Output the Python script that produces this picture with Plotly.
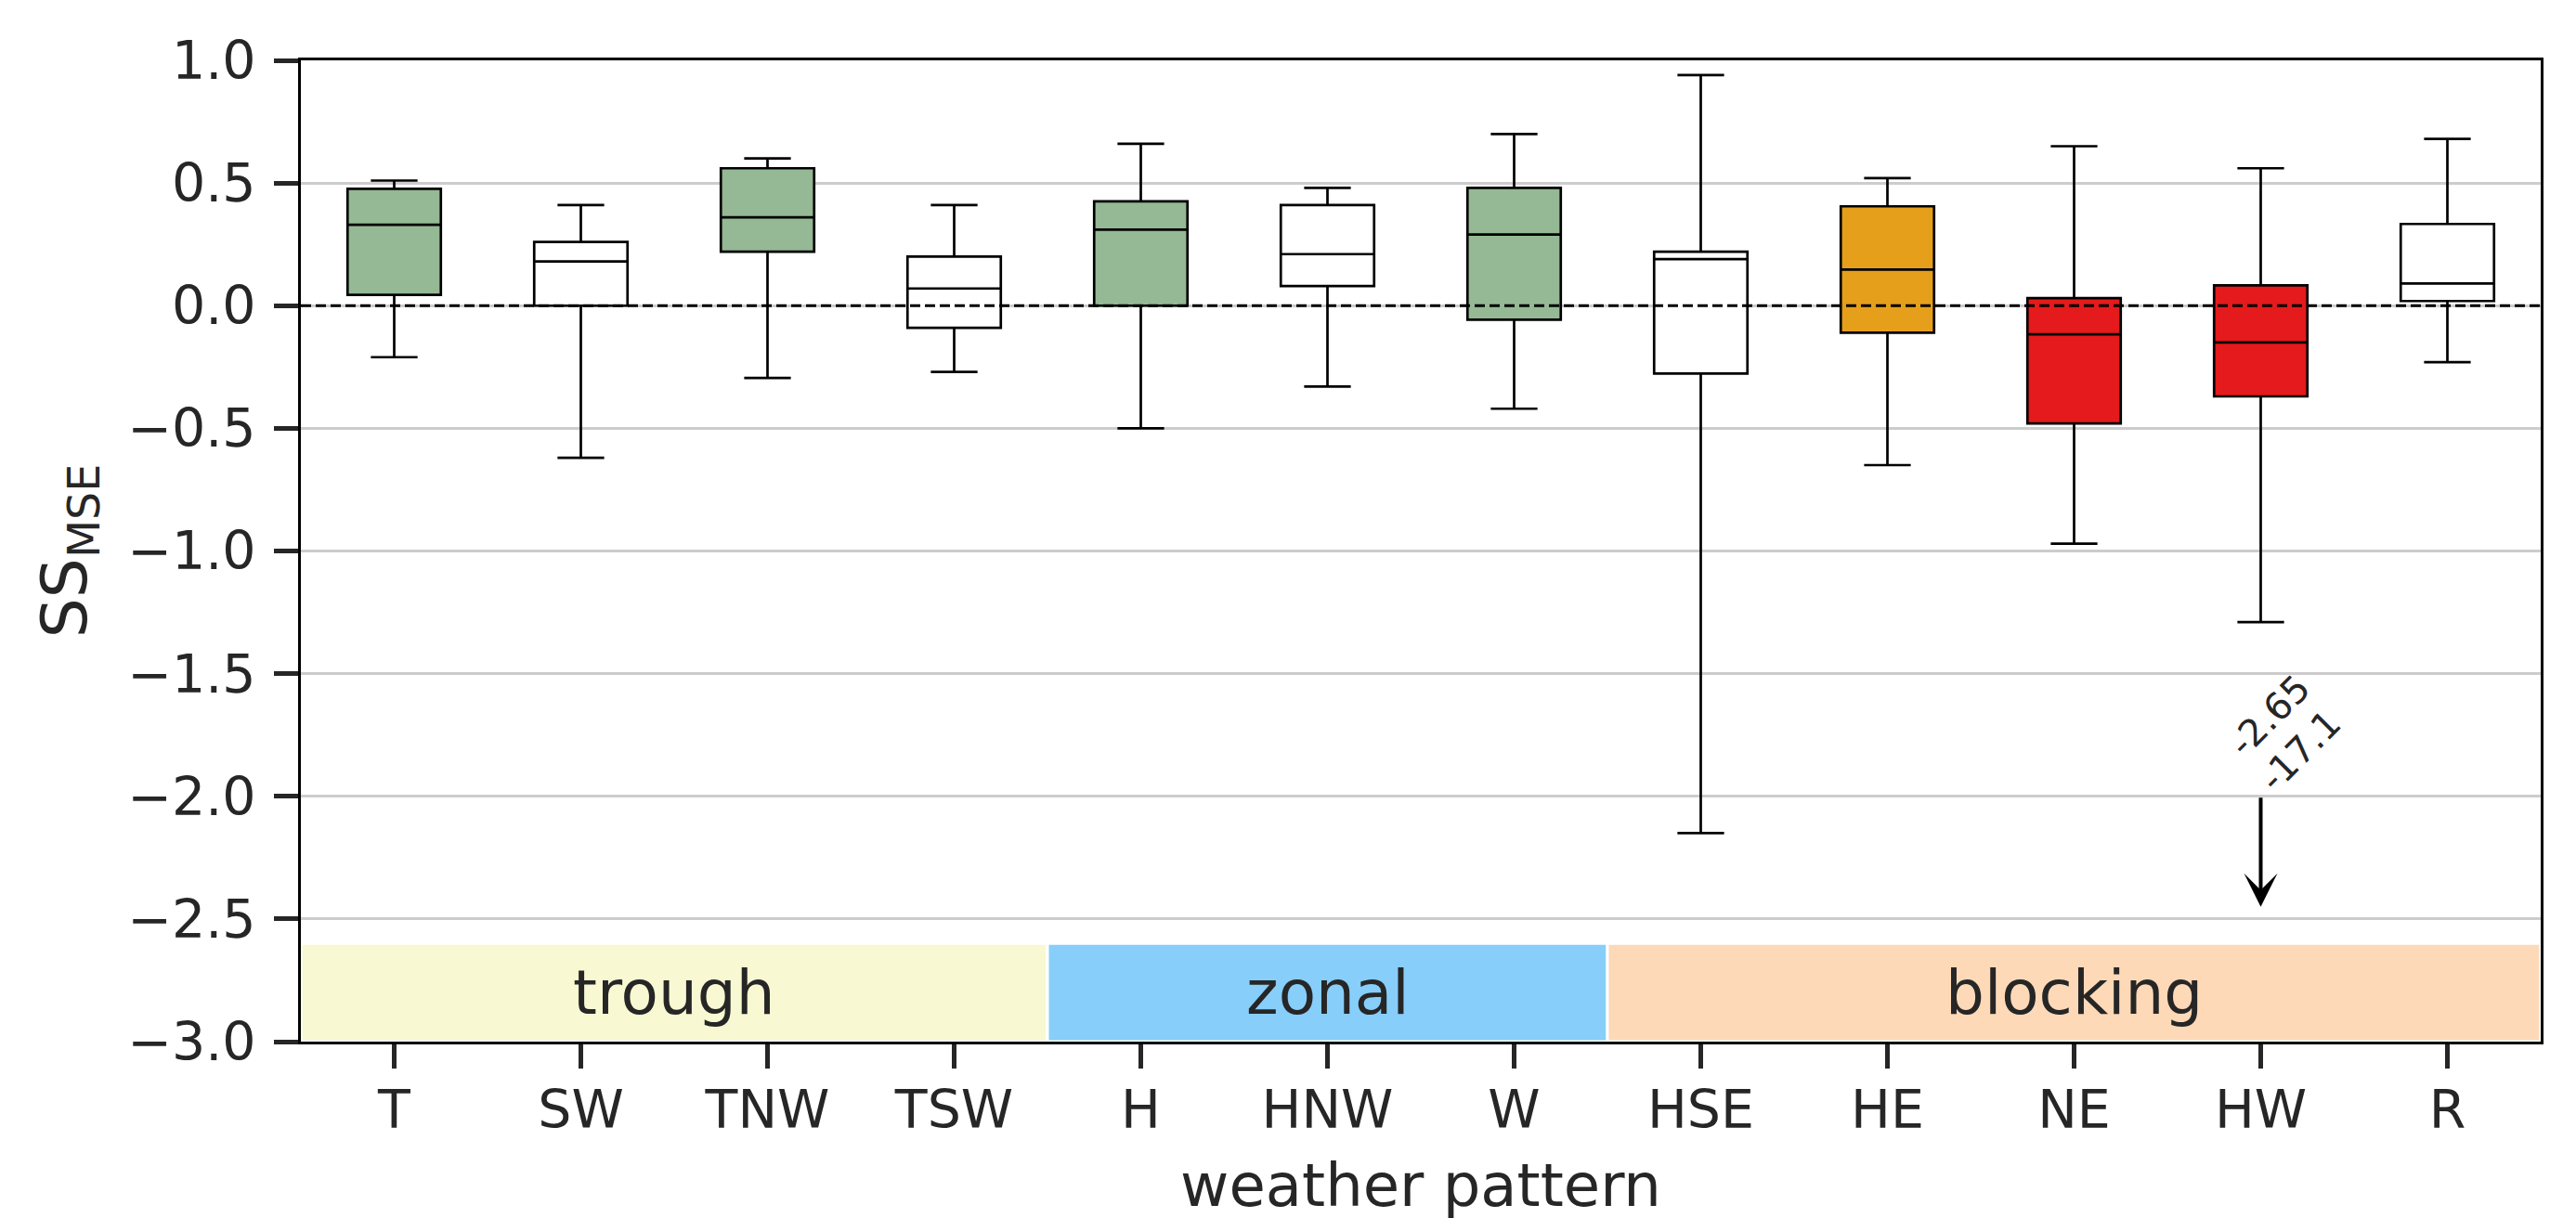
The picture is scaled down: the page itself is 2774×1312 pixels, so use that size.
import plotly.graph_objects as go

# ---- data ----
categories = ["T", "SW", "TNW", "TSW", "H", "HNW", "W", "HSE", "HE", "NE", "HW", "R"]
upper_whisker = [0.51, 0.41, 0.60, 0.41, 0.66, 0.48, 0.70, 0.94, 0.52, 0.65, 0.56, 0.68]
q3_values = [0.476, 0.26, 0.56, 0.20, 0.425, 0.41, 0.48, 0.22, 0.405, 0.031, 0.083, 0.333]
median_values = [0.33, 0.18, 0.36, 0.07, 0.31, 0.21, 0.29, 0.19, 0.147, -0.117, -0.15, 0.09]
q1_values = [0.044, 0.0, 0.22, -0.09, 0.0, 0.08, -0.057, -0.277, -0.11, -0.48, -0.37, 0.019]
lower_whisker = [-0.21, -0.62, -0.295, -0.27, -0.50, -0.33, -0.42, -2.15, -0.65, -0.97, -1.29, -0.23]
box_colors = ["#94b994", "#ffffff", "#94b994", "#ffffff", "#94b994", "#ffffff",
              "#94b994", "#ffffff", "#e69f1a", "#e41a1c", "#e41a1c", "#ffffff"]

groups = ["trough", "zonal", "blocking"]
group_start = [0, 4, 7]
group_end = [3, 6, 11]
group_colors = ["#f8f8d2", "#87cefa", "#fdd9b8"]
group_band = [-3.0, -2.6]
group_label_y = -2.8

# off-scale values for HW
offscale_cat = "HW"
offscale_labels = ["-2.65", "-17.1"]
arrow_from = -2.0
arrow_to = -2.45

y_range = [-3.0, 1.0]
y_ticks = [-3.0, -2.5, -2.0, -1.5, -1.0, -0.5, 0.0, 0.5, 1.0]

FONT = "DejaVu Sans"
TXT = "#262626"

fig = go.Figure()

for i, cat in enumerate(categories):
    fig.add_trace(go.Box(
        x=[cat], q1=[q1_values[i]], median=[median_values[i]], q3=[q3_values[i]],
        lowerfence=[lower_whisker[i]], upperfence=[upper_whisker[i]],
        fillcolor=box_colors[i], line=dict(color="black", width=2.7),
        whiskerwidth=0.5, width=0.5, boxpoints=False, showlegend=False,
        name=cat,
    ))

shapes = []
annotations = []
for g, s, e, c in zip(groups, group_start, group_end, group_colors):
    shapes.append(dict(type="rect", xref="x", yref="y", x0=s - 0.5, x1=e + 0.5,
                       y0=group_band[0], y1=group_band[1], fillcolor=c,
                       line=dict(color="white", width=3), layer="below"))
    annotations.append(dict(x=(s + e) / 2, y=group_label_y, xref="x", yref="y",
                            text=g, showarrow=False,
                            font=dict(family=FONT, size=66, color=TXT)))

# zero line
shapes.append(dict(type="line", xref="paper", yref="y", x0=0, x1=1, y0=0, y1=0,
                   line=dict(color="black", width=3, dash="11px,5px"), layer="above"))

# arrow for off-scale values
annotations.append(dict(x=offscale_cat, y=arrow_to, ax=offscale_cat, ay=arrow_from,
                        xref="x", yref="y", axref="x", ayref="y", text="",
                        showarrow=True, arrowhead=3, arrowsize=1.5, arrowwidth=4,
                        arrowcolor="black", standoff=0, startstandoff=0))
shifts = [(9, 87), (42, 49)]
for lab, (dx, dy) in zip(offscale_labels, shifts):
    annotations.append(dict(x=offscale_cat, y=arrow_from, xref="x", yref="y",
                            text=lab, showarrow=False, textangle=-45,
                            xshift=dx, yshift=dy, xanchor="center", yanchor="middle",
                            font=dict(family=FONT, size=40, color=TXT)))

# the page body has an 8px default margin; margins compensate for it
fig.update_layout(
    width=2774, height=1312,
    margin=dict(l=316, r=46, t=57, b=198, pad=0),
    paper_bgcolor="white", plot_bgcolor="white",
    boxmode="overlay",
    font=dict(family=FONT, color=TXT),
    shapes=shapes, annotations=annotations,
    xaxis=dict(
        type="category", categoryorder="array", categoryarray=categories,
        range=[-0.5, len(categories) - 0.5],
        showgrid=False, zeroline=False,
        ticks="outside", ticklen=26, tickwidth=5, tickcolor=TXT,
        showline=True, linecolor="black", linewidth=3, mirror=True,
        tickfont=dict(family=FONT, size=57, color=TXT),
        ticklabelstandoff=-4,
        title=dict(text="weather pattern", font=dict(family=FONT, size=64, color=TXT),
                   standoff=27),
        automargin=False,
    ),
    yaxis=dict(
        range=y_range, tickvals=y_ticks, tickformat=".1f",
        showgrid=True, gridcolor="#cccccc", gridwidth=3, zeroline=False,
        ticks="outside", ticklen=26, tickwidth=5, tickcolor=TXT,
        showline=True, linecolor="black", linewidth=3, mirror=True,
        tickfont=dict(family=FONT, size=57, color=TXT),
        ticklabelstandoff=8,
        title=dict(text="SS<sub>MSE</sub>", font=dict(family=FONT, size=68, color=TXT),
                   standoff=22),
        automargin=False,
    ),
)

fig.write_html("out.html")
